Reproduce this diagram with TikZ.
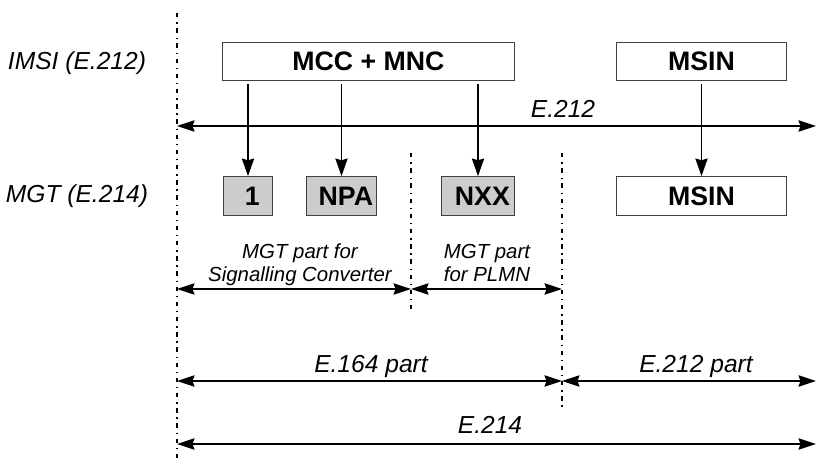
\documentclass[tikz,border=0pt]{standalone}
\usepackage{fontspec}
\setmainfont{Liberation Sans}
\usetikzlibrary{arrows.meta}

\definecolor{boxgray}{RGB}{204,204,204}

\tikzset{
    field/.style={draw=black!75, line width=0.6pt, minimum height=22.1pt, inner sep=0pt,
        font=\fontsize{15.2}{17}\selectfont\bfseries},
    digit/.style={field, fill=boxgray, execute at begin node={\hspace*{5pt}}},
    tag/.style={inner sep=0pt, anchor=base, font=\fontsize{14}{16}\selectfont\itshape},
    note/.style={inner sep=0pt, anchor=south, align=center, text depth=2.5pt,
        font=\fontsize{11.6}{13}\selectfont\itshape},
    arr/.style={-{Stealth[length=10pt, width=7pt, inset=1pt]}, line width=0.6pt, shorten <=1.5pt},
    dim/.style={{Stealth[length=10pt, width=6.5pt, inset=1.2pt]}-{Stealth[length=10pt, width=6.5pt, inset=1.2pt]},
        line width=0.6pt},
    sep/.style={dash pattern=on 2.5pt off 2.8pt on 0.75pt off 2.6pt}
}

\begin{document}
\begin{tikzpicture}[x=0.02cm, y=-0.02cm]
        \useasboundingbox (0,0) rectangle (816,466);

        % Separator lines
        \coordinate (sepAtop) at (177,13);
        \coordinate (sepAbot) at (177,463);
        \coordinate (sepBtop) at (411,153);
        \coordinate (sepBbot) at (411,310);
        \coordinate (sepCtop) at (562,153);
        \coordinate (sepCbot) at (562,410);
        \draw[sep, line width=1.2pt] (sepAtop) -- (sepAbot);
        \draw[sep, line width=1.1pt] (sepBtop) -- (sepBbot);
        \draw[sep, line width=0.6pt] (sepCtop) -- (sepCbot);

        % IMSI row
        \node[tag] (imsi) at (77,70) {IMSI (E.212)};
        \node[field, minimum width=166.1pt] (mcc) at (368.5,61.5) {MCC + MNC};
        \node[field, minimum width=96.9pt] (msin) at (701.5,61.5) {MSIN};

        % MGT row
        \node[tag] (mgt) at (77,203) {MGT (E.214)};
        \node[digit, minimum width=28.3pt] (one) at (248,196) {1};
        \node[digit, minimum width=40.3pt] (npa) at (341.5,196) {NPA};
        \node[digit, minimum width=42pt] (nxx) at (478,196) {NXX};
        \node[field, minimum width=96.9pt] (msinb) at (701.5,196) {MSIN};

        \draw[arr] (mcc.south -| one.north) -- (one.north);
        \draw[arr] (mcc.south -| npa.north) -- (npa.north);
        \draw[arr] (mcc.south -| nxx.north) -- (nxx.north);
        \draw[arr] (msin.south) -- (msinb.north);

        % E.212 range
        \coordinate (e212l) at (177,126);
        \coordinate (e212r) at (816,126);
        \draw[dim] (e212l) -- (e212r);
        \node[tag] (e212) at (563,118) {E.212};

        % MGT parts
        \coordinate (scl) at (177,289);
        \coordinate (scr) at (411,289);
        \coordinate (plmnr) at (562,289);
        \draw[dim] (scl) -- (scr);
        \draw[dim] (scr) -- (plmnr);
        \node[note] (sc) at (300,286.4) {MGT part for\\Signalling Converter};
        \node[note] (plmn) at (487,286.4) {MGT part\\for PLMN};

        % E.164 / E.212 parts
        \coordinate (e164l) at (177,381);
        \coordinate (e164r) at (562,381);
        \coordinate (e212pr) at (816,381);
        \draw[dim] (e164l) -- (e164r);
        \draw[dim] (e164r) -- (e212pr);
        \node[tag] (e164p) at (371,373) {E.164 part};
        \node[tag] (e212p) at (696,373) {E.212 part};

        % E.214 range
        \coordinate (e214l) at (177,444);
        \coordinate (e214r) at (816,444);
        \draw[dim] (e214l) -- (e214r);
        \node[tag] (e214) at (490,434) {E.214};
\end{tikzpicture}
\end{document}
